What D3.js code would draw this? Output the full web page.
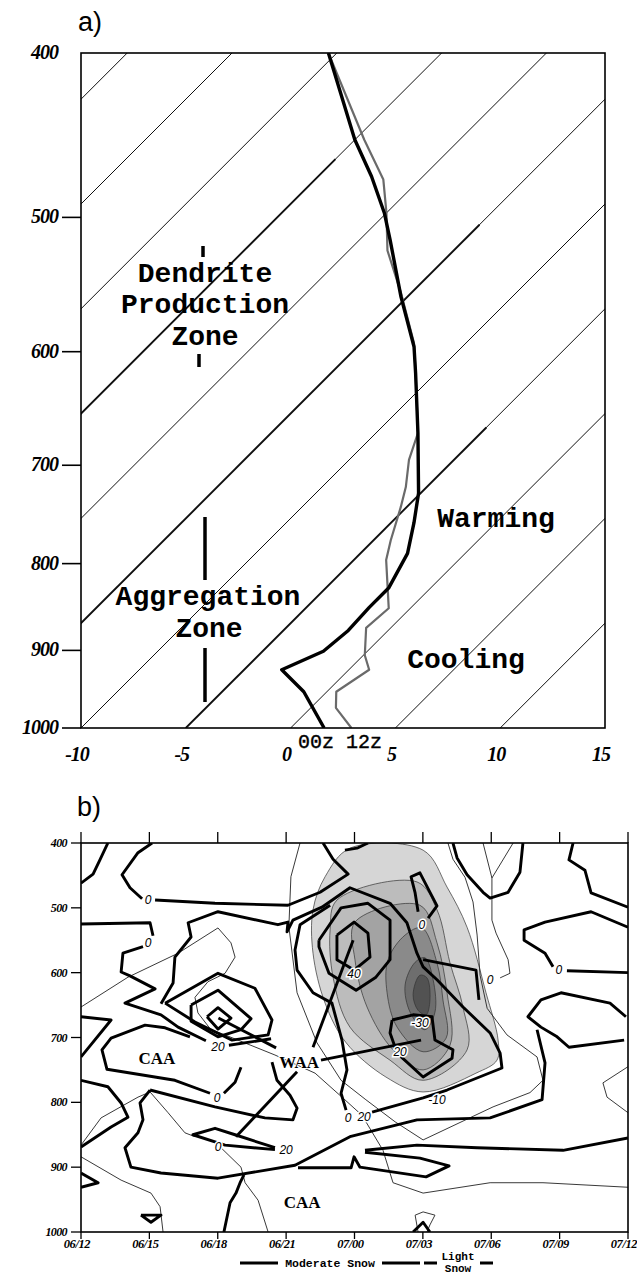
<!DOCTYPE html>
<html><head><meta charset="utf-8">
<script src="https://cdn.jsdelivr.net/npm/d3@7"></script>
<style>body{margin:0;background:#fff}svg{display:block}</style>
</head><body>
<svg id="c" width="637" height="1275"></svg>
<script>
// ---------------- Panel a data ----------------
const pTicksA = [400,500,600,700,800,900,1000];
const tTicksA = [-10,-5,0,5,10,15];
const isotherms = [-45,-40,-35,-30,-25,-20,-15,-10,-5,0,5,10];
// isotherms drawn heavier below a given pressure [T, p_from]
const heavyIsotherms = [[-25,462],[-15,505],[-5,665]];
// soundings: [pressure hPa, temperature C]
const sounding00z = [[1000,1.6],[952,-1.1],[924,-3.2],[901,-2.1],[876,-1.9],[849,-2.0],[827,-2.0],[789,-2.75],[757,-3.9],[727,-5.1],[670,-8.0],[618,-10.95],[596,-12.3],[557,-15.3],[516,-18.5],[497,-20.1],[473,-22.45],[450,-25.0],[400,-30.4]];
const sounding12z = [[1000,2.9],[973,1.2],[952,0.45],[924,0.97],[906,0.07],[873,-1.17],[850,-1.03],[796,-3.46],[775,-4.18],[741,-5.28],[721,-6.0],[695,-7.14],[670,-8.0],[618,-10.95],[593,-12.48],[554,-15.49],[523,-18.16],[497,-20.0],[475,-21.74],[450,-24.55],[400,-30.4]];

// ---------------- Panel b data ([hours after 06/12, hPa]) ----------------
const pTicksB = [400,500,600,700,800,900,1000];
const timeLabels = ["06/12","06/15","06/18","06/21","07/00","07/03","07/06","07/09","07/12"];
const timeHours = [0,3,6,9,12,15,18,21,24];

// shaded field (outer -> inner)
const shade1 = [[11.80,408],[15.01,411],[16.06,468],[16.94,530],[17.77,631],[18.30,704],[18.25,735],[17.33,755],[15.01,784],[13.38,761],[11.63,708],[10.71,647],[10.18,570],[10.18,503],[10.71,452]];
const shade2 = [[11.23,488],[14.74,460],[15.62,503],[16.19,585],[16.76,653],[16.94,719],[15.01,766],[13.56,735],[11.80,684],[11.06,607],[10.93,534]];
const shade3 = [[12.02,522],[14.87,496],[15.62,554],[16.06,631],[16.19,712],[15.01,750],[13.69,719],[12.55,653],[12.02,580]];
const shade4 = [[13.47,580],[14.22,542],[14.96,531],[15.62,585],[15.88,642],[16.02,701],[15.01,722],[13.87,684],[13.43,631]];
const shade5 = [[14.22,619],[14.66,584],[15.09,577],[15.45,611],[15.53,661],[15.09,688],[14.44,661]];
const shade6 = [[14.57,634],[14.87,604],[15.18,608],[15.31,642],[15.14,665],[14.79,658]];

// heavy contours
const k1 = [[0,462],[0.53,448],[0.83,426],[1.18,400]];
const k2a = [[3.12,400],[2.50,415],[1.80,449],[2.15,469],[2.68,486]];
const k2b = [[3.25,488],[5.88,493],[9.08,496],[10.49,476],[11.72,448],[11.06,425],[10.62,400]];
const k3a = [[0,525],[3.03,523],[3.16,543]];
const k3b = [[2.72,560],[1.84,570],[1.76,599],[2.15,605],[3.25,625],[1.93,647],[3.51,665],[4.26,684],[5.48,705]];
const k3c = [[6.49,712],[8.34,702]];
const k4 = [[3.51,648],[4.04,616],[4.12,576],[4.83,545],[4.70,523],[6.01,506],[8.64,526],[9.08,522],[9.04,537],[9.30,519],[10.57,499],[11.80,469],[13.56,493],[14.30,523],[14.74,570],[15.01,591],[15.62,611],[16.76,653],[17.95,693],[18.39,724],[18.47,747],[16.06,781],[15.01,793],[12.77,815]];
const k5 = [[3.69,647],[6.01,601],[7.63,624],[8.38,673],[8.21,696],[6.63,704],[5.00,676],[3.69,647]];
const k6 = [[4.83,650],[6.01,627],[7.46,671],[7.02,688],[6.01,699],[4.83,675],[4.83,650]];
const k7 = [[5.53,668],[6.01,654],[6.58,670],[6.01,687],[5.53,668]];
const k8a = [[4.78,699],[3.69,685],[2.81,681],[1.32,701],[0.92,719],[1.14,749],[4.12,766],[5.66,786]];
const k8b = [[6.27,786],[6.76,769],[7.02,746]];
const k9 = [[0,766],[1.18,776],[1.76,801],[2.06,823],[1.32,838],[0,869]];
const k10 = [[0,668],[1.32,673],[0,730]];
const k11 = [[3.03,781],[2.59,801],[2.72,827],[2.50,847],[1.93,870],[2.19,900],[3.51,909],[6.01,917],[9.39,897],[11.80,853],[14.74,827],[17.95,824],[20.23,796],[20.36,739],[20.01,688]];
const k12 = [[23.91,668],[23.21,647],[21.06,631],[20.18,642],[19.61,668],[20.18,684],[20.89,699],[21.41,715],[23.83,704]];
const k14 = [[16.32,400],[16.50,423],[16.94,449],[17.64,476],[17.95,485],[18.74,476],[19.26,445],[19.39,400]];
const k15 = [[21.59,400],[21.41,426],[22.11,442],[22.38,477],[24,499]];
const k16a = [[24,530],[22.38,506],[20.36,522],[19.44,534],[19.44,550],[20.36,570],[20.71,591]];
const k16b = [[21.32,597],[24,600]];
const k17 = [[11.23,542],[11.98,522],[12.59,539],[12.68,576],[11.98,596],[11.23,580],[11.23,542]];
const k18 = [[10.44,550],[11.41,500],[12.59,493],[13.56,519],[13.56,580],[12.94,607],[12.07,627],[10.88,601],[10.44,560],[10.44,550]];
const k19 = [[10.93,496],[9.61,526],[9.39,565],[9.48,596],[10.18,631],[11.01,647],[11.45,704],[11.67,750],[11.41,786],[11.63,812]];
const k20 = [[15.23,516],[15.62,497],[14.87,446],[14.48,452],[14.66,477],[14.79,506]];
const k21 = [[13.65,673],[14.57,665],[15.40,668],[15.53,704],[16.32,719],[16.28,732],[15.01,761],[13.87,724],[13.56,693],[13.65,673]];
const k22 = [[24,855],[21.15,874],[17.38,870],[14.74,866],[12.46,874]];
const k23 = [[9.52,901],[11.85,901],[11.98,884],[12.24,900],[15.14,915],[16.15,898],[14.87,886],[12.46,877]];
const k24 = [[3.03,781],[5.88,807],[8.07,824],[9.30,827],[9.48,809],[9.17,789],[8.60,766],[8.38,738]];
const k25 = [[8.51,870],[6.76,850],[5.88,840],[4.91,850],[6.32,866],[8.51,873]];
const k27 = [[11.58,411],[12.11,408],[12.59,400]];
const k28 = [[0,909],[0.75,924],[0,931]];
const k29 = [[2.63,974],[3.51,974],[3.07,985],[2.63,974]];
const k30 = [[6.27,1000],[6.54,955],[6.80,940],[6.98,924],[7.15,912]];
const k31 = [[14.57,1000],[15.01,985],[15.31,1000]];
const k32 = [[15.01,580],[17.33,596],[17.46,642]];
// WAA pointer lines
const w1 = [[8.56,716],[6.03,670]];
const w2 = [[10.53,735],[14.92,704]];
const w3 = [[10.18,715],[11.94,550]];
const w4 = [[9.48,753],[6.80,853]];

// light contours
const n1 = [[0,653],[2.06,607],[4.26,570],[6.01,531],[6.58,554],[6.76,576],[6.32,601],[5.57,614],[5.00,638],[5.13,662],[5.70,688],[6.32,696],[8.51,727],[10.27,755],[11.45,792],[12.33,820],[13.25,874],[13.69,924],[15.01,940],[17.95,924],[20.27,924],[24,931]];
const n2 = [[9.61,400],[9.21,452],[9.12,529],[9.48,631],[10.35,708],[11.41,766],[12.50,796],[13.78,830],[15.01,858],[18.08,807],[19.70,785],[20.27,766],[20.01,730],[18.69,696],[17.82,655],[17.51,604],[17.38,542],[17.20,491],[16.85,453],[16.32,425],[16.10,400]];
const n3 = [[17.64,400],[18.03,454],[18.96,400]];
const n4 = [[18.03,454],[18.03,488],[18.03,519],[18.21,539],[18.74,580],[18.82,601],[18.39,608]];
const n5 = [[24,745],[22.90,770],[23.08,792],[24,816]];
const n7 = [[14.79,1000],[14.66,974],[15.01,969],[15.53,974],[15.31,989],[15.18,1000]];
const n8 = [[0,884],[1.76,920],[3.07,940],[3.47,961],[3.60,1000]];
const n9 = [[0,866],[0.88,824],[2.50,792],[3.03,784],[3.82,816],[4.56,847],[5.00,853]];
const n10 = [[6.14,870],[7.02,900],[7.20,924],[7.77,951],[8.21,1000]];

// contour labels [text, hours, hPa]
const contourLabels = [["0",2.94,488],["0",2.94,554],["20",6.01,715],["0",5.97,793],["0",6.01,869],["20",9.0,874],["0",11.72,824],["20",12.42,823],["-10",15.62,796],["40",11.98,602],["0",14.96,526],["-30",14.87,678],["20",14.0,722],["0",17.95,611],["0",20.97,596]];
const regionLabels = [["CAA",3.33,732],["WAA",9.57,738],["CAA",9.70,954]];

// ---------------- drawing ----------------
const svg = d3.select("#c");
svg.append("rect").attr("width",637).attr("height",1275).attr("fill","#fff");

// ===== Panel a =====
const xA = d3.scaleLinear().domain([-10,15]).range([81,605]);
const yA = d3.scaleLog().domain([400,1000]).range([53,728]);
const sk = (T,p) => xA(T) + (yA(1000) - yA(p));
const defs = svg.append("defs");
defs.append("clipPath").attr("id","clipA").append("rect").attr("x",81).attr("y",53).attr("width",524).attr("height",675);
defs.append("clipPath").attr("id","clipB").append("rect").attr("x",81).attr("y",843).attr("width",547).attr("height",389);

const gA = svg.append("g");
const gAc = gA.append("g").attr("clip-path","url(#clipA)");
gAc.selectAll("line.iso").data(isotherms).join("line").attr("class","iso")
  .attr("x1",t=>sk(t,1000)).attr("y1",yA(1000)).attr("x2",t=>sk(t,400)).attr("y2",yA(400))
  .attr("stroke","#111").attr("stroke-width",1);
gAc.selectAll("line.hiso").data(heavyIsotherms).join("line").attr("class","hiso")
  .attr("x1",d=>sk(d[0],1000)).attr("y1",yA(1000)).attr("x2",d=>sk(d[0],d[1])).attr("y2",d=>yA(d[1]))
  .attr("stroke","#111").attr("stroke-width",1.9);

const profLine = d3.line().x(d=>sk(d[1],d[0])).y(d=>yA(d[0]));
gAc.append("path").attr("d",profLine(sounding12z)).attr("fill","none").attr("stroke","#6a6a6a").attr("stroke-width",2.2).attr("stroke-linejoin","round");
gAc.append("path").attr("d",profLine(sounding00z)).attr("fill","none").attr("stroke","#000").attr("stroke-width",3.4).attr("stroke-linejoin","round");

// frame a
gA.append("rect").attr("x",81).attr("y",53).attr("width",524).attr("height",675).attr("fill","none").attr("stroke","#000").attr("stroke-width",1.6);
gA.selectAll("line.ytk").data(pTicksA.filter(p=>p>400)).join("line").attr("class","ytk")
  .attr("x1",62).attr("x2",81).attr("y1",d=>yA(d)).attr("y2",d=>yA(d)).attr("stroke","#000").attr("stroke-width",1.6);
gA.selectAll("text.ylab").data(pTicksA).join("text").attr("class","ylab")
  .attr("x",58).attr("y",d=>yA(d)+6).attr("text-anchor","end")
  .attr("font-family","Liberation Serif").attr("font-weight","bold").attr("font-style","italic").attr("font-size",20)
  .attr("letter-spacing",-1).text(d=>d);
gA.selectAll("text.xlab").data(tTicksA).join("text").attr("class","xlab")
  .attr("x",d=>xA(d)-4).attr("y",761).attr("text-anchor","middle")
  .attr("font-family","Liberation Serif").attr("font-weight","bold").attr("font-style","italic").attr("font-size",20)
  .attr("letter-spacing",-1).text(d=>d);

const mono = "Liberation Mono, Courier New, monospace";
function atext(g,x,y,s,size,w){ return g.append("text").attr("x",x).attr("y",y).attr("text-anchor","middle")
  .attr("font-family",mono).attr("font-weight",w||"bold").attr("font-size",size).text(s); }
[["Dendrite",205,282],["Production",205,313],["Zone",205,345]].forEach(d=>atext(gA,d[1],d[2],d[0],28));
[["Aggregation",208,605],["Zone",209,637]].forEach(d=>atext(gA,d[1],d[2],d[0],28));
atext(gA,496,527,"Warming",28);
atext(gA,466,668,"Cooling",28);
atext(gA,340,748,"00z 12z",20,"normal").attr("stroke","#000").attr("stroke-width",0.4);
// zone bars
[[203,246,257],[199,354,367],[205,517,580],[205,648,702]].forEach(b=>gA.append("line")
  .attr("x1",b[0]).attr("x2",b[0]).attr("y1",b[1]).attr("y2",b[2]).attr("stroke","#000").attr("stroke-width",3.5));
svg.append("text").attr("x",78).attr("y",31).attr("font-family","Liberation Sans").attr("font-size",27).text("a)");

// ===== Panel b =====
const xB = d3.scaleLinear().domain([0,24]).range([81,628]);
const yB = d3.scaleLinear().domain([400,1000]).range([843,1232]);
const gB = svg.append("g");
const gBc = gB.append("g").attr("clip-path","url(#clipB)");
const cl = d3.line().x(d=>xB(d[0])).y(d=>yB(d[1]));
const clSmooth = d3.line().x(d=>xB(d[0])).y(d=>yB(d[1])).curve(d3.curveCatmullRomClosed.alpha(0.5));
const shades = [shade1,shade2,shade3,shade4,shade5,shade6];
const shadeColors = ["#d6d6d6","#bcbcbc","#a3a3a3","#8a8a8a","#6e6e6e","#525252"];
shades.forEach((s,i)=>gBc.append("path").attr("d",clSmooth(s)).attr("fill",shadeColors[i]).attr("stroke","#333").attr("stroke-width",0.7));
const lightContours = [n1,n2,n3,n4,n5,n7,n8,n9,n10];
gBc.selectAll("path.lc").data(lightContours).join("path").attr("class","lc").attr("d",cl)
  .attr("fill","none").attr("stroke","#222").attr("stroke-width",0.9).attr("stroke-linejoin","round");
const heavyContours = [k1,k2a,k2b,k3a,k3b,k3c,k4,k5,k6,k7,k8a,k8b,k9,k10,k11,k12,k14,k15,k16a,k16b,k17,k18,k19,k20,k21,k22,k23,k24,k25,k27,k28,k29,k30,k31,k32,w1,w2,w3,w4];
gBc.selectAll("path.hc").data(heavyContours).join("path").attr("class","hc").attr("d",cl)
  .attr("fill","none").attr("stroke","#000").attr("stroke-width",2.9).attr("stroke-linejoin","round");
gBc.selectAll("text.cl").data(contourLabels).join("text").attr("class","cl")
  .attr("x",d=>xB(d[1])).attr("y",d=>yB(d[2])+4).attr("text-anchor","middle")
  .attr("font-family","Liberation Sans").attr("font-style","italic").attr("font-size",12)
  .attr("stroke","#fff").attr("stroke-width",3).attr("paint-order","stroke").text(d=>d[0]);
gBc.selectAll("text.rl").data(regionLabels).join("text").attr("class","rl")
  .attr("x",d=>xB(d[1])).attr("y",d=>yB(d[2])+6).attr("text-anchor","middle")
  .attr("font-family","Liberation Serif").attr("font-weight","bold").attr("font-size",17)
  .attr("stroke","#fff").attr("stroke-width",2).attr("paint-order","stroke").text(d=>d[0]);

// frame b
gB.append("rect").attr("x",81).attr("y",843).attr("width",547).attr("height",389).attr("fill","none").attr("stroke","#000").attr("stroke-width",1.6);
gB.selectAll("line.ltk").data(pTicksB).join("line").attr("class","ltk")
  .attr("x1",71).attr("x2",81).attr("y1",d=>yB(d)).attr("y2",d=>yB(d)).attr("stroke","#000").attr("stroke-width",1.3);
gB.selectAll("line.ttk").data(timeHours).join("line").attr("class","ttk")
  .attr("x1",d=>xB(d)).attr("x2",d=>xB(d)).attr("y1",832).attr("y2",843).attr("stroke","#000").attr("stroke-width",1.3);
gB.selectAll("line.btk").data(timeHours).join("line").attr("class","btk")
  .attr("x1",d=>xB(d)).attr("x2",d=>xB(d)).attr("y1",1232).attr("y2",1239).attr("stroke","#000").attr("stroke-width",1.3);
gB.selectAll("text.pl").data(pTicksB).join("text").attr("class","pl")
  .attr("x",67).attr("y",d=>yB(d)+4).attr("text-anchor","end")
  .attr("font-family","Liberation Serif").attr("font-weight","bold").attr("font-style","italic").attr("font-size",12)
  .attr("letter-spacing",-0.6).text(d=>d);
gB.selectAll("text.tl").data(timeLabels).join("text").attr("class","tl")
  .attr("x",(d,i)=>xB(timeHours[i])-4).attr("y",1248).attr("text-anchor","middle")
  .attr("font-family","Liberation Serif").attr("font-weight","bold").attr("font-style","italic").attr("font-size",12.5)
  .attr("letter-spacing",-0.4).text(d=>d);
svg.append("text").attr("x",77).attr("y",816).attr("font-family","Liberation Sans").attr("font-size",27).text("b)");

// legend under panel b
const lg = svg.append("g");
[[240,278],[382,420],[424,437],[480,493]].forEach(s=>lg.append("line").attr("x1",s[0]).attr("x2",s[1]).attr("y1",1263).attr("y2",1263).attr("stroke","#000").attr("stroke-width",3));
lg.append("text").attr("x",330).attr("y",1267).attr("text-anchor","middle").attr("font-family",mono).attr("font-weight","bold").attr("font-size",11.5).text("Moderate Snow");
lg.append("text").attr("x",458).attr("y",1260).attr("text-anchor","middle").attr("font-family",mono).attr("font-weight","bold").attr("font-size",11).text("Light");
lg.append("text").attr("x",458).attr("y",1272).attr("text-anchor","middle").attr("font-family",mono).attr("font-weight","bold").attr("font-size",11).text("Snow");
</script>
</body></html>
